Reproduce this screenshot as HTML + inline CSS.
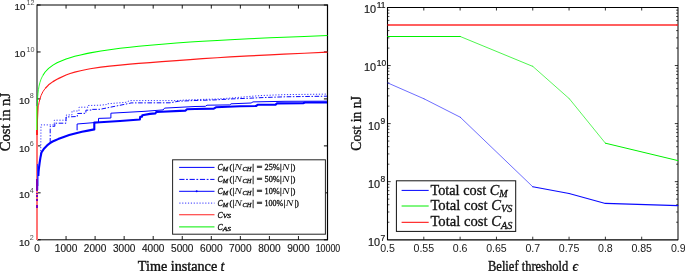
<!DOCTYPE html>
<html><head><meta charset="utf-8"><title>plots</title>
<style>html,body{margin:0;padding:0;background:#fff;}body{width:685px;height:271px;overflow:hidden;}svg{display:block;}text{font-family:"Liberation Sans",sans-serif;fill:#1a1a1a;}.s{font-family:"Liberation Serif",serif;fill:#111;}</style></head><body>
<svg width="685" height="271" viewBox="0 0 685 271">
<rect width="685" height="271" fill="#fff"/>
<defs><linearGradient id="fadeR" x1="0" y1="0" x2="0" y2="1"><stop offset="0" stop-color="#ff5050"/><stop offset="1" stop-color="#ffffff"/></linearGradient></defs>
<g style="filter:brightness(1)">
<g id="left">
<line x1="37.00" y1="5.00" x2="327.50" y2="5.00" stroke="#000" stroke-width="1" />
<line x1="37.00" y1="239.80" x2="327.50" y2="239.80" stroke="#000" stroke-width="1" />
<line x1="37.00" y1="4.50" x2="37.00" y2="106.00" stroke="#000" stroke-width="1" />
<line x1="327.50" y1="4.50" x2="327.50" y2="240.30" stroke="#000" stroke-width="1.2" />
<line x1="66.05" y1="239.80" x2="66.05" y2="236.00" stroke="#000" stroke-width="0.9" />
<line x1="66.05" y1="5.00" x2="66.05" y2="8.60" stroke="#000" stroke-width="0.9" />
<line x1="95.10" y1="239.80" x2="95.10" y2="236.00" stroke="#000" stroke-width="0.9" />
<line x1="95.10" y1="5.00" x2="95.10" y2="8.60" stroke="#000" stroke-width="0.9" />
<line x1="124.15" y1="239.80" x2="124.15" y2="236.00" stroke="#000" stroke-width="0.9" />
<line x1="124.15" y1="5.00" x2="124.15" y2="8.60" stroke="#000" stroke-width="0.9" />
<line x1="153.20" y1="239.80" x2="153.20" y2="236.00" stroke="#000" stroke-width="0.9" />
<line x1="153.20" y1="5.00" x2="153.20" y2="8.60" stroke="#000" stroke-width="0.9" />
<line x1="182.25" y1="239.80" x2="182.25" y2="236.00" stroke="#000" stroke-width="0.9" />
<line x1="182.25" y1="5.00" x2="182.25" y2="8.60" stroke="#000" stroke-width="0.9" />
<line x1="211.30" y1="239.80" x2="211.30" y2="236.00" stroke="#000" stroke-width="0.9" />
<line x1="211.30" y1="5.00" x2="211.30" y2="8.60" stroke="#000" stroke-width="0.9" />
<line x1="240.35" y1="239.80" x2="240.35" y2="236.00" stroke="#000" stroke-width="0.9" />
<line x1="240.35" y1="5.00" x2="240.35" y2="8.60" stroke="#000" stroke-width="0.9" />
<line x1="269.40" y1="239.80" x2="269.40" y2="236.00" stroke="#000" stroke-width="0.9" />
<line x1="269.40" y1="5.00" x2="269.40" y2="8.60" stroke="#000" stroke-width="0.9" />
<line x1="298.45" y1="239.80" x2="298.45" y2="236.00" stroke="#000" stroke-width="0.9" />
<line x1="298.45" y1="5.00" x2="298.45" y2="8.60" stroke="#000" stroke-width="0.9" />
<line x1="37.00" y1="239.80" x2="40.60" y2="239.80" stroke="#000" stroke-width="1.0" />
<line x1="327.50" y1="239.80" x2="323.90" y2="239.80" stroke="#000" stroke-width="1.0" />
<line x1="37.00" y1="192.84" x2="40.60" y2="192.84" stroke="#000" stroke-width="1.0" />
<line x1="327.50" y1="192.84" x2="323.90" y2="192.84" stroke="#000" stroke-width="1.0" />
<line x1="37.00" y1="145.88" x2="40.60" y2="145.88" stroke="#000" stroke-width="1.0" />
<line x1="327.50" y1="145.88" x2="323.90" y2="145.88" stroke="#000" stroke-width="1.0" />
<line x1="37.00" y1="98.92" x2="40.60" y2="98.92" stroke="#000" stroke-width="1.0" />
<line x1="327.50" y1="98.92" x2="323.90" y2="98.92" stroke="#000" stroke-width="1.0" />
<line x1="37.00" y1="51.96" x2="40.60" y2="51.96" stroke="#000" stroke-width="1.0" />
<line x1="327.50" y1="51.96" x2="323.90" y2="51.96" stroke="#000" stroke-width="1.0" />
<line x1="37.00" y1="5.00" x2="40.60" y2="5.00" stroke="#000" stroke-width="1.0" />
<line x1="327.50" y1="5.00" x2="323.90" y2="5.00" stroke="#000" stroke-width="1.0" />
<polyline points="40.70,154.00 41.00,124.90 54.30,124.90 54.30,120.20 66.40,120.20 66.40,114.90 72.00,114.90 72.00,111.00 79.00,111.00 79.00,107.20 88.00,107.20 88.00,105.50 100.00,105.20 106.20,104.60 106.20,103.90 126.00,102.30 129.80,100.60 178.80,100.60 182.00,100.20 195.00,99.60 215.00,99.10 232.00,98.00 250.00,96.40 262.00,95.50 285.00,94.60 305.00,94.40 327.00,94.10" fill="none" stroke="#2a2aff" stroke-width="0.95" stroke-dasharray="1.2 1.7"/>
<polyline points="50.20,142.60 50.20,126.30 54.80,126.30 54.80,123.20 66.00,123.20 66.00,117.00 77.30,116.50 77.30,113.50 85.90,113.30 85.90,110.20 92.20,110.00 92.20,109.40 100.00,109.30 129.80,103.30 131.00,102.90 170.00,102.80 178.80,101.20 195.00,100.50 215.00,99.90 232.00,98.90 250.00,98.20 262.00,97.60 285.00,96.80 305.00,96.50 327.00,96.20" fill="none" stroke="#0a0aff" stroke-width="1.0" stroke-dasharray="4.6 1.6 1.5 1.6"/>
<polyline points="77.10,130.30 77.10,124.00 94.30,122.60 98.50,122.40 98.50,118.40 110.90,118.00 110.90,113.20 145.00,111.30 163.20,109.90 164.60,108.10 195.00,106.50 205.40,106.30 207.00,105.20 229.90,104.90 231.00,103.80 251.10,103.00 253.00,101.90 285.00,101.30 327.00,101.20" fill="none" stroke="#0000ff" stroke-width="1.0" stroke-linejoin="miter"/>
<polyline points="38.35,176.00 38.55,172.00 38.95,168.00 39.60,163.00 40.50,157.20 41.50,152.30 44.20,148.40 47.10,145.40 50.00,143.20 52.60,141.50 55.50,140.20 58.10,139.10 63.70,136.90 69.20,135.10 76.00,133.20 82.00,131.80 88.00,130.60 94.30,129.40 94.30,122.60 100.00,122.30 120.00,121.00 139.90,119.50 140.20,116.90 142.00,116.70 142.30,115.30 150.00,113.90 155.50,113.40 156.20,112.00 185.60,110.60 187.00,109.20 195.00,109.00 213.80,108.60 215.90,107.30 240.00,106.20 256.00,106.00 258.00,104.70 275.60,104.60 277.00,103.40 303.10,103.30 305.00,102.50 327.00,102.50" fill="none" stroke="#0000ff" stroke-width="2.1" stroke-linejoin="round"/>
<polyline points="37.03,145.88 37.06,138.81 37.09,134.68 37.15,129.47 37.23,124.68 37.35,120.54 37.52,116.41 37.73,113.06 38.02,109.63 38.45,106.00 39.03,102.57 39.91,98.93 41.07,95.51 42.81,91.88 45.13,88.46" fill="none" stroke="#ff1a1a" stroke-width="1.0" stroke-linejoin="round"/>
<polyline points="45.13,88.46 48.62,84.84 52.98,81.62 57.04,79.32 58.79,78.38 66.05,75.05 70.12,73.50 74.77,72.19 80.58,70.76 86.38,69.51 90.16,68.78 100.91,67.19 109.62,66.12 120.08,65.03 129.96,64.14 138.68,63.46 150.00,62.69 161.92,61.67 176.44,60.54 190.09,59.59 202.59,58.70 217.11,57.73 230.18,56.92 249.06,55.92 269.98,54.91 283.93,54.21 304.26,53.24 327.50,52.21" fill="none" stroke="#ff1a1a" stroke-width="1.2" stroke-linejoin="round"/>
<polyline points="37.03,129.47 37.06,122.40 37.09,118.27 37.15,113.06 37.23,108.26 37.35,104.13 37.52,99.99 37.73,96.64 38.02,93.21 38.45,89.58 39.03,86.15 39.91,82.51 41.07,79.08 42.81,75.44" fill="none" stroke="#00ff00" stroke-width="0.8" stroke-linejoin="round"/>
<polyline points="42.81,75.44 45.13,72.01 48.62,68.37 52.98,65.12 57.04,62.81 58.79,61.96 66.05,59.03 70.12,57.69 74.77,56.35 80.58,54.89 86.38,53.62 90.16,52.87 100.91,50.99 109.62,49.68 120.08,48.31 129.96,47.17 138.68,46.25 150.00,45.18 161.92,44.15 176.44,43.03 190.09,42.08 202.59,41.28 217.11,40.42 230.18,39.71 249.06,38.76 269.98,37.80 283.93,37.21 304.26,36.40 327.50,35.55" fill="none" stroke="#00ff00" stroke-width="1.05" stroke-linejoin="round"/>
<rect x="36" y="106.00" width="1" height="24.00" fill="#66ff44" shape-rendering="crispEdges"/>
<rect x="37" y="106.00" width="1" height="24.00" fill="#8a7a20" shape-rendering="crispEdges"/>
<rect x="38" y="104" width="1" height="16" fill="url(#fadeR)" shape-rendering="crispEdges"/>
<rect x="36" y="130.00" width="2" height="4.50" fill="#ff2020" shape-rendering="crispEdges"/>
<rect x="36" y="134.50" width="2" height="105.50" fill="#ff7474" shape-rendering="crispEdges"/>
<rect x="36" y="179.00" width="2" height="12.30" fill="#7a00b8" shape-rendering="crispEdges"/>
<rect x="36" y="192.60" width="2" height="1.70" fill="#7a00b8" shape-rendering="crispEdges"/>
<rect x="36" y="194.80" width="2" height="2.20" fill="#7a00b8" shape-rendering="crispEdges"/>
<rect x="36" y="198.70" width="2" height="2.30" fill="#7a00b8" shape-rendering="crispEdges"/>
<rect x="36" y="205.30" width="2" height="2.70" fill="#7a00b8" shape-rendering="crispEdges"/>
<rect x="37" y="164.00" width="1" height="15.00" fill="#2a2aff" shape-rendering="crispEdges"/>
<rect x="38" y="176.00" width="1" height="10.00" fill="#8c8cff" shape-rendering="crispEdges"/>
<rect x="38" y="186.00" width="1" height="4.00" fill="#c8c8ff" shape-rendering="crispEdges"/>
<rect x="172.6" y="159.8" width="152.80" height="74.40" fill="#fff" stroke="#222" stroke-width="1"/>
<line x1="179.10" y1="167.40" x2="214.50" y2="167.40" stroke="#0000ff" stroke-width="1.0" />
<line x1="179.30" y1="179.40" x2="214.50" y2="179.40" stroke="#0000ff" stroke-width="1.0" stroke-dasharray="5.2 1.6 1.8 1.7"/>
<line x1="179.10" y1="191.30" x2="214.50" y2="191.30" stroke="#0000ff" stroke-width="1.0" />
<circle cx="196.7" cy="191.3" r="1.0" fill="#0000ff"/>
<line x1="179.30" y1="203.10" x2="214.50" y2="203.10" stroke="#3030ff" stroke-width="1.0" stroke-dasharray="1.2 1.68"/>
<line x1="179.10" y1="214.75" x2="214.50" y2="214.75" stroke="#ff2020" stroke-width="1.0" />
<line x1="179.10" y1="226.90" x2="214.50" y2="226.90" stroke="#00ee00" stroke-width="1.0" />
<text class="s" x="217.50" y="170.20" font-size="8.6" font-style="italic" textLength="5.2" lengthAdjust="spacingAndGlyphs" style="stroke:#111;stroke-width:0.3px">C</text>
<text class="s" x="222.70" y="171.10" font-size="6.3" font-style="italic" textLength="5.4" lengthAdjust="spacingAndGlyphs" style="stroke:#111;stroke-width:0.3px">M</text>
<text class="s" x="229.40" y="170.20" font-size="8.6" style="stroke:#111;stroke-width:0.3px">(</text>
<text class="s" x="232.60" y="170.20" font-size="8.6" style="stroke:#111;stroke-width:0.3px">|</text>
<text class="s" x="234.30" y="170.20" font-size="8.6" font-style="italic" textLength="7.8" lengthAdjust="spacingAndGlyphs" >N</text>
<text class="s" x="242.40" y="171.10" font-size="6.3" font-style="italic" textLength="9.0" lengthAdjust="spacingAndGlyphs" style="stroke:#111;stroke-width:0.3px">CH</text>
<text class="s" x="252.20" y="170.20" font-size="8.6" style="stroke:#111;stroke-width:0.3px">|</text>
<text class="s" x="256.60" y="170.20" font-size="8.6" textLength="6.0" lengthAdjust="spacingAndGlyphs" style="stroke:#111;stroke-width:0.3px">=</text>
<text class="s" x="264.50" y="170.20" font-size="8.6" textLength="15.2" lengthAdjust="spacingAndGlyphs" style="stroke:#111;stroke-width:0.3px">25%</text>
<text class="s" x="280.10" y="170.20" font-size="8.6" style="stroke:#111;stroke-width:0.3px">|</text>
<text class="s" x="281.80" y="170.20" font-size="8.6" font-style="italic" textLength="8.0" lengthAdjust="spacingAndGlyphs" >N</text>
<text class="s" x="290.80" y="170.20" font-size="8.6" style="stroke:#111;stroke-width:0.3px">|</text>
<text class="s" x="292.40" y="170.20" font-size="8.6" style="stroke:#111;stroke-width:0.3px">)</text>
<text class="s" x="217.50" y="182.20" font-size="8.6" font-style="italic" textLength="5.2" lengthAdjust="spacingAndGlyphs" style="stroke:#111;stroke-width:0.3px">C</text>
<text class="s" x="222.70" y="183.10" font-size="6.3" font-style="italic" textLength="5.4" lengthAdjust="spacingAndGlyphs" style="stroke:#111;stroke-width:0.3px">M</text>
<text class="s" x="229.40" y="182.20" font-size="8.6" style="stroke:#111;stroke-width:0.3px">(</text>
<text class="s" x="232.60" y="182.20" font-size="8.6" style="stroke:#111;stroke-width:0.3px">|</text>
<text class="s" x="234.30" y="182.20" font-size="8.6" font-style="italic" textLength="7.8" lengthAdjust="spacingAndGlyphs" >N</text>
<text class="s" x="242.40" y="183.10" font-size="6.3" font-style="italic" textLength="9.0" lengthAdjust="spacingAndGlyphs" style="stroke:#111;stroke-width:0.3px">CH</text>
<text class="s" x="252.20" y="182.20" font-size="8.6" style="stroke:#111;stroke-width:0.3px">|</text>
<text class="s" x="256.60" y="182.20" font-size="8.6" textLength="6.0" lengthAdjust="spacingAndGlyphs" style="stroke:#111;stroke-width:0.3px">=</text>
<text class="s" x="264.50" y="182.20" font-size="8.6" textLength="15.2" lengthAdjust="spacingAndGlyphs" style="stroke:#111;stroke-width:0.3px">50%</text>
<text class="s" x="280.10" y="182.20" font-size="8.6" style="stroke:#111;stroke-width:0.3px">|</text>
<text class="s" x="281.80" y="182.20" font-size="8.6" font-style="italic" textLength="8.0" lengthAdjust="spacingAndGlyphs" >N</text>
<text class="s" x="290.80" y="182.20" font-size="8.6" style="stroke:#111;stroke-width:0.3px">|</text>
<text class="s" x="292.40" y="182.20" font-size="8.6" style="stroke:#111;stroke-width:0.3px">)</text>
<text class="s" x="217.50" y="194.10" font-size="8.6" font-style="italic" textLength="5.2" lengthAdjust="spacingAndGlyphs" style="stroke:#111;stroke-width:0.3px">C</text>
<text class="s" x="222.70" y="195.00" font-size="6.3" font-style="italic" textLength="5.4" lengthAdjust="spacingAndGlyphs" style="stroke:#111;stroke-width:0.3px">M</text>
<text class="s" x="229.40" y="194.10" font-size="8.6" style="stroke:#111;stroke-width:0.3px">(</text>
<text class="s" x="232.60" y="194.10" font-size="8.6" style="stroke:#111;stroke-width:0.3px">|</text>
<text class="s" x="234.30" y="194.10" font-size="8.6" font-style="italic" textLength="7.8" lengthAdjust="spacingAndGlyphs" >N</text>
<text class="s" x="242.40" y="195.00" font-size="6.3" font-style="italic" textLength="9.0" lengthAdjust="spacingAndGlyphs" style="stroke:#111;stroke-width:0.3px">CH</text>
<text class="s" x="252.20" y="194.10" font-size="8.6" style="stroke:#111;stroke-width:0.3px">|</text>
<text class="s" x="256.60" y="194.10" font-size="8.6" textLength="6.0" lengthAdjust="spacingAndGlyphs" style="stroke:#111;stroke-width:0.3px">=</text>
<text class="s" x="264.50" y="194.10" font-size="8.6" textLength="15.2" lengthAdjust="spacingAndGlyphs" style="stroke:#111;stroke-width:0.3px">10%</text>
<text class="s" x="280.10" y="194.10" font-size="8.6" style="stroke:#111;stroke-width:0.3px">|</text>
<text class="s" x="281.80" y="194.10" font-size="8.6" font-style="italic" textLength="8.0" lengthAdjust="spacingAndGlyphs" >N</text>
<text class="s" x="290.80" y="194.10" font-size="8.6" style="stroke:#111;stroke-width:0.3px">|</text>
<text class="s" x="292.40" y="194.10" font-size="8.6" style="stroke:#111;stroke-width:0.3px">)</text>
<text class="s" x="217.50" y="205.90" font-size="8.6" font-style="italic" textLength="5.2" lengthAdjust="spacingAndGlyphs" style="stroke:#111;stroke-width:0.3px">C</text>
<text class="s" x="222.70" y="206.80" font-size="6.3" font-style="italic" textLength="5.4" lengthAdjust="spacingAndGlyphs" style="stroke:#111;stroke-width:0.3px">M</text>
<text class="s" x="229.40" y="205.90" font-size="8.6" style="stroke:#111;stroke-width:0.3px">(</text>
<text class="s" x="232.60" y="205.90" font-size="8.6" style="stroke:#111;stroke-width:0.3px">|</text>
<text class="s" x="234.30" y="205.90" font-size="8.6" font-style="italic" textLength="7.8" lengthAdjust="spacingAndGlyphs" >N</text>
<text class="s" x="242.40" y="206.80" font-size="6.3" font-style="italic" textLength="9.0" lengthAdjust="spacingAndGlyphs" style="stroke:#111;stroke-width:0.3px">CH</text>
<text class="s" x="252.20" y="205.90" font-size="8.6" style="stroke:#111;stroke-width:0.3px">|</text>
<text class="s" x="256.60" y="205.90" font-size="8.6" textLength="6.0" lengthAdjust="spacingAndGlyphs" style="stroke:#111;stroke-width:0.3px">=</text>
<text class="s" x="264.50" y="205.90" font-size="8.6" textLength="18.8" lengthAdjust="spacingAndGlyphs" style="stroke:#111;stroke-width:0.3px">100%</text>
<text class="s" x="283.70" y="205.90" font-size="8.6" style="stroke:#111;stroke-width:0.3px">|</text>
<text class="s" x="285.40" y="205.90" font-size="8.6" font-style="italic" textLength="8.0" lengthAdjust="spacingAndGlyphs" >N</text>
<text class="s" x="294.40" y="205.90" font-size="8.6" style="stroke:#111;stroke-width:0.3px">|</text>
<text class="s" x="296.00" y="205.90" font-size="8.6" style="stroke:#111;stroke-width:0.3px">)</text>
<text class="s" x="217.50" y="217.55" font-size="8.6" font-style="italic" textLength="5.2" lengthAdjust="spacingAndGlyphs" style="stroke:#111;stroke-width:0.3px">C</text>
<text class="s" x="222.70" y="218.45" font-size="6.3" font-style="italic" textLength="8.4" lengthAdjust="spacingAndGlyphs" style="stroke:#111;stroke-width:0.3px">VS</text>
<text class="s" x="217.50" y="229.70" font-size="8.6" font-style="italic" textLength="5.2" lengthAdjust="spacingAndGlyphs" style="stroke:#111;stroke-width:0.3px">C</text>
<text class="s" x="222.70" y="230.60" font-size="6.3" font-style="italic" textLength="8.4" lengthAdjust="spacingAndGlyphs" style="stroke:#111;stroke-width:0.3px">AS</text>
<text x="37.00" y="251.9" font-size="10.1" text-anchor="middle" style="stroke:#1a1a1a;stroke-width:0.15px">0</text>
<text x="66.05" y="251.9" font-size="10.1" text-anchor="middle" style="stroke:#1a1a1a;stroke-width:0.15px">1000</text>
<text x="95.10" y="251.9" font-size="10.1" text-anchor="middle" style="stroke:#1a1a1a;stroke-width:0.15px">2000</text>
<text x="124.15" y="251.9" font-size="10.1" text-anchor="middle" style="stroke:#1a1a1a;stroke-width:0.15px">3000</text>
<text x="153.20" y="251.9" font-size="10.1" text-anchor="middle" style="stroke:#1a1a1a;stroke-width:0.15px">4000</text>
<text x="182.25" y="251.9" font-size="10.1" text-anchor="middle" style="stroke:#1a1a1a;stroke-width:0.15px">5000</text>
<text x="211.30" y="251.9" font-size="10.1" text-anchor="middle" style="stroke:#1a1a1a;stroke-width:0.15px">6000</text>
<text x="240.35" y="251.9" font-size="10.1" text-anchor="middle" style="stroke:#1a1a1a;stroke-width:0.15px">7000</text>
<text x="269.40" y="251.9" font-size="10.1" text-anchor="middle" style="stroke:#1a1a1a;stroke-width:0.15px">8000</text>
<text x="298.45" y="251.9" font-size="10.1" text-anchor="middle" style="stroke:#1a1a1a;stroke-width:0.15px">9000</text>
<text x="328.00" y="251.9" font-size="10.1" text-anchor="middle" textLength="24.6" lengthAdjust="spacingAndGlyphs" style="stroke:#1a1a1a;stroke-width:0.15px">10000</text>
<text x="29.80" y="245.70" font-size="9.8" text-anchor="end" style="stroke:#1a1a1a;stroke-width:0.2px">10</text>
<text x="29.70" y="240.40" font-size="7.2" style="fill:#505050">2</text>
<text x="29.80" y="198.40" font-size="9.8" text-anchor="end" style="stroke:#1a1a1a;stroke-width:0.2px">10</text>
<text x="29.70" y="193.10" font-size="7.2" style="fill:#505050">4</text>
<text x="29.80" y="151.60" font-size="9.8" text-anchor="end" style="stroke:#1a1a1a;stroke-width:0.2px">10</text>
<text x="29.70" y="146.30" font-size="7.2" style="fill:#505050">6</text>
<text x="29.80" y="103.70" font-size="9.8" text-anchor="end" style="stroke:#1a1a1a;stroke-width:0.2px">10</text>
<text x="29.70" y="98.40" font-size="7.2" style="fill:#505050">8</text>
<text x="25.50" y="57.30" font-size="9.8" text-anchor="end" style="stroke:#1a1a1a;stroke-width:0.2px">10</text>
<text x="26.40" y="52.00" font-size="7.2" style="fill:#505050">10</text>
<text x="25.50" y="10.10" font-size="9.8" text-anchor="end" style="stroke:#1a1a1a;stroke-width:0.2px">10</text>
<text x="26.40" y="5.30" font-size="7.2" style="fill:#505050">12</text>
<text class="s" x="137.8" y="270.5" font-size="14.3" textLength="79.4" lengthAdjust="spacingAndGlyphs" style="stroke:#111;stroke-width:0.4px">Time instance</text>
<text class="s" x="220.6" y="270.5" font-size="14.3" font-style="italic" style="stroke:#111;stroke-width:0.3px">t</text>
<text class="s" transform="translate(10.1,151.3) rotate(-90)" font-size="14" textLength="58.4" lengthAdjust="spacingAndGlyphs" style="stroke:#111;stroke-width:0.35px">Cost in nJ</text>
</g>
<g id="right">
<line x1="387.50" y1="7.50" x2="678.00" y2="7.50" stroke="#000" stroke-width="1" />
<line x1="387.50" y1="239.85" x2="678.00" y2="239.85" stroke="#000" stroke-width="1.1" />
<line x1="387.50" y1="7.00" x2="387.50" y2="240.20" stroke="#000" stroke-width="1.1" />
<line x1="678.00" y1="7.00" x2="678.00" y2="240.20" stroke="#000" stroke-width="1" />
<line x1="423.81" y1="239.70" x2="423.81" y2="236.70" stroke="#000" stroke-width="0.8" />
<line x1="423.81" y1="7.50" x2="423.81" y2="10.50" stroke="#000" stroke-width="0.8" />
<line x1="460.12" y1="239.70" x2="460.12" y2="236.70" stroke="#000" stroke-width="0.8" />
<line x1="460.12" y1="7.50" x2="460.12" y2="10.50" stroke="#000" stroke-width="0.8" />
<line x1="496.44" y1="239.70" x2="496.44" y2="236.70" stroke="#000" stroke-width="0.8" />
<line x1="496.44" y1="7.50" x2="496.44" y2="10.50" stroke="#000" stroke-width="0.8" />
<line x1="532.75" y1="239.70" x2="532.75" y2="236.70" stroke="#000" stroke-width="0.8" />
<line x1="532.75" y1="7.50" x2="532.75" y2="10.50" stroke="#000" stroke-width="0.8" />
<line x1="569.06" y1="239.70" x2="569.06" y2="236.70" stroke="#000" stroke-width="0.8" />
<line x1="569.06" y1="7.50" x2="569.06" y2="10.50" stroke="#000" stroke-width="0.8" />
<line x1="605.38" y1="239.70" x2="605.38" y2="236.70" stroke="#000" stroke-width="0.8" />
<line x1="605.38" y1="7.50" x2="605.38" y2="10.50" stroke="#000" stroke-width="0.8" />
<line x1="641.69" y1="239.70" x2="641.69" y2="236.70" stroke="#000" stroke-width="0.8" />
<line x1="641.69" y1="7.50" x2="641.69" y2="10.50" stroke="#000" stroke-width="0.8" />
<line x1="387.50" y1="222.23" x2="389.40" y2="222.23" stroke="#000" stroke-width="0.7" />
<line x1="678.00" y1="222.23" x2="676.10" y2="222.23" stroke="#000" stroke-width="0.7" />
<line x1="387.50" y1="212.00" x2="389.40" y2="212.00" stroke="#000" stroke-width="0.7" />
<line x1="678.00" y1="212.00" x2="676.10" y2="212.00" stroke="#000" stroke-width="0.7" />
<line x1="387.50" y1="204.75" x2="389.40" y2="204.75" stroke="#000" stroke-width="0.7" />
<line x1="678.00" y1="204.75" x2="676.10" y2="204.75" stroke="#000" stroke-width="0.7" />
<line x1="387.50" y1="199.12" x2="389.40" y2="199.12" stroke="#000" stroke-width="0.7" />
<line x1="678.00" y1="199.12" x2="676.10" y2="199.12" stroke="#000" stroke-width="0.7" />
<line x1="387.50" y1="194.53" x2="389.40" y2="194.53" stroke="#000" stroke-width="0.7" />
<line x1="678.00" y1="194.53" x2="676.10" y2="194.53" stroke="#000" stroke-width="0.7" />
<line x1="387.50" y1="190.64" x2="389.40" y2="190.64" stroke="#000" stroke-width="0.7" />
<line x1="678.00" y1="190.64" x2="676.10" y2="190.64" stroke="#000" stroke-width="0.7" />
<line x1="387.50" y1="187.28" x2="389.40" y2="187.28" stroke="#000" stroke-width="0.7" />
<line x1="678.00" y1="187.28" x2="676.10" y2="187.28" stroke="#000" stroke-width="0.7" />
<line x1="387.50" y1="184.31" x2="389.40" y2="184.31" stroke="#000" stroke-width="0.7" />
<line x1="678.00" y1="184.31" x2="676.10" y2="184.31" stroke="#000" stroke-width="0.7" />
<line x1="387.50" y1="181.65" x2="390.70" y2="181.65" stroke="#000" stroke-width="0.8" />
<line x1="678.00" y1="181.65" x2="674.80" y2="181.65" stroke="#000" stroke-width="0.8" />
<line x1="387.50" y1="164.18" x2="389.40" y2="164.18" stroke="#000" stroke-width="0.7" />
<line x1="678.00" y1="164.18" x2="676.10" y2="164.18" stroke="#000" stroke-width="0.7" />
<line x1="387.50" y1="153.95" x2="389.40" y2="153.95" stroke="#000" stroke-width="0.7" />
<line x1="678.00" y1="153.95" x2="676.10" y2="153.95" stroke="#000" stroke-width="0.7" />
<line x1="387.50" y1="146.70" x2="389.40" y2="146.70" stroke="#000" stroke-width="0.7" />
<line x1="678.00" y1="146.70" x2="676.10" y2="146.70" stroke="#000" stroke-width="0.7" />
<line x1="387.50" y1="141.07" x2="389.40" y2="141.07" stroke="#000" stroke-width="0.7" />
<line x1="678.00" y1="141.07" x2="676.10" y2="141.07" stroke="#000" stroke-width="0.7" />
<line x1="387.50" y1="136.48" x2="389.40" y2="136.48" stroke="#000" stroke-width="0.7" />
<line x1="678.00" y1="136.48" x2="676.10" y2="136.48" stroke="#000" stroke-width="0.7" />
<line x1="387.50" y1="132.59" x2="389.40" y2="132.59" stroke="#000" stroke-width="0.7" />
<line x1="678.00" y1="132.59" x2="676.10" y2="132.59" stroke="#000" stroke-width="0.7" />
<line x1="387.50" y1="129.23" x2="389.40" y2="129.23" stroke="#000" stroke-width="0.7" />
<line x1="678.00" y1="129.23" x2="676.10" y2="129.23" stroke="#000" stroke-width="0.7" />
<line x1="387.50" y1="126.26" x2="389.40" y2="126.26" stroke="#000" stroke-width="0.7" />
<line x1="678.00" y1="126.26" x2="676.10" y2="126.26" stroke="#000" stroke-width="0.7" />
<line x1="387.50" y1="123.60" x2="390.70" y2="123.60" stroke="#000" stroke-width="0.8" />
<line x1="678.00" y1="123.60" x2="674.80" y2="123.60" stroke="#000" stroke-width="0.8" />
<line x1="387.50" y1="106.13" x2="389.40" y2="106.13" stroke="#000" stroke-width="0.7" />
<line x1="678.00" y1="106.13" x2="676.10" y2="106.13" stroke="#000" stroke-width="0.7" />
<line x1="387.50" y1="95.90" x2="389.40" y2="95.90" stroke="#000" stroke-width="0.7" />
<line x1="678.00" y1="95.90" x2="676.10" y2="95.90" stroke="#000" stroke-width="0.7" />
<line x1="387.50" y1="88.65" x2="389.40" y2="88.65" stroke="#000" stroke-width="0.7" />
<line x1="678.00" y1="88.65" x2="676.10" y2="88.65" stroke="#000" stroke-width="0.7" />
<line x1="387.50" y1="83.02" x2="389.40" y2="83.02" stroke="#000" stroke-width="0.7" />
<line x1="678.00" y1="83.02" x2="676.10" y2="83.02" stroke="#000" stroke-width="0.7" />
<line x1="387.50" y1="78.43" x2="389.40" y2="78.43" stroke="#000" stroke-width="0.7" />
<line x1="678.00" y1="78.43" x2="676.10" y2="78.43" stroke="#000" stroke-width="0.7" />
<line x1="387.50" y1="74.54" x2="389.40" y2="74.54" stroke="#000" stroke-width="0.7" />
<line x1="678.00" y1="74.54" x2="676.10" y2="74.54" stroke="#000" stroke-width="0.7" />
<line x1="387.50" y1="71.18" x2="389.40" y2="71.18" stroke="#000" stroke-width="0.7" />
<line x1="678.00" y1="71.18" x2="676.10" y2="71.18" stroke="#000" stroke-width="0.7" />
<line x1="387.50" y1="68.21" x2="389.40" y2="68.21" stroke="#000" stroke-width="0.7" />
<line x1="678.00" y1="68.21" x2="676.10" y2="68.21" stroke="#000" stroke-width="0.7" />
<line x1="387.50" y1="65.55" x2="390.70" y2="65.55" stroke="#000" stroke-width="0.8" />
<line x1="678.00" y1="65.55" x2="674.80" y2="65.55" stroke="#000" stroke-width="0.8" />
<line x1="387.50" y1="48.08" x2="389.40" y2="48.08" stroke="#000" stroke-width="0.7" />
<line x1="678.00" y1="48.08" x2="676.10" y2="48.08" stroke="#000" stroke-width="0.7" />
<line x1="387.50" y1="37.85" x2="389.40" y2="37.85" stroke="#000" stroke-width="0.7" />
<line x1="678.00" y1="37.85" x2="676.10" y2="37.85" stroke="#000" stroke-width="0.7" />
<line x1="387.50" y1="30.60" x2="389.40" y2="30.60" stroke="#000" stroke-width="0.7" />
<line x1="678.00" y1="30.60" x2="676.10" y2="30.60" stroke="#000" stroke-width="0.7" />
<line x1="387.50" y1="24.97" x2="389.40" y2="24.97" stroke="#000" stroke-width="0.7" />
<line x1="678.00" y1="24.97" x2="676.10" y2="24.97" stroke="#000" stroke-width="0.7" />
<line x1="387.50" y1="20.38" x2="389.40" y2="20.38" stroke="#000" stroke-width="0.7" />
<line x1="678.00" y1="20.38" x2="676.10" y2="20.38" stroke="#000" stroke-width="0.7" />
<line x1="387.50" y1="16.49" x2="389.40" y2="16.49" stroke="#000" stroke-width="0.7" />
<line x1="678.00" y1="16.49" x2="676.10" y2="16.49" stroke="#000" stroke-width="0.7" />
<line x1="387.50" y1="13.13" x2="389.40" y2="13.13" stroke="#000" stroke-width="0.7" />
<line x1="678.00" y1="13.13" x2="676.10" y2="13.13" stroke="#000" stroke-width="0.7" />
<line x1="387.50" y1="10.16" x2="389.40" y2="10.16" stroke="#000" stroke-width="0.7" />
<line x1="678.00" y1="10.16" x2="676.10" y2="10.16" stroke="#000" stroke-width="0.7" />
<polyline points="387.70,36.50 460.25,36.50" fill="none" stroke="#00f000" stroke-width="1.0" stroke-linecap="round"/>
<polyline points="460.25,36.50 532.80,66.40" fill="none" stroke="#00f000" stroke-width="0.7" stroke-linecap="round"/>
<polyline points="532.80,66.40 569.30,98.70" fill="none" stroke="#00f000" stroke-width="0.65" stroke-linecap="round"/>
<polyline points="569.30,98.70 605.40,143.20" fill="none" stroke="#00f000" stroke-width="0.65" stroke-linecap="round"/>
<polyline points="605.40,143.20 677.90,160.60" fill="none" stroke="#00f000" stroke-width="1.0" stroke-linecap="round"/>
<polyline points="387.70,82.90 424.00,98.80" fill="none" stroke="#0a0aff" stroke-width="0.6" stroke-linecap="round"/>
<polyline points="424.00,98.80 460.25,117.20" fill="none" stroke="#0a0aff" stroke-width="0.6" stroke-linecap="round"/>
<polyline points="460.25,117.20 532.80,186.80" fill="none" stroke="#0a0aff" stroke-width="0.6" stroke-linecap="round"/>
<polyline points="532.80,186.80 569.10,193.50" fill="none" stroke="#0a0aff" stroke-width="1.05" stroke-linecap="round"/>
<polyline points="569.10,193.50 605.40,203.40" fill="none" stroke="#0a0aff" stroke-width="1.05" stroke-linecap="round"/>
<polyline points="605.40,203.40 677.90,205.60" fill="none" stroke="#0a0aff" stroke-width="1.15" stroke-linecap="round"/>
<line x1="387.50" y1="25.00" x2="678.00" y2="25.00" stroke="#ff2a2a" stroke-width="1.3" />
<rect x="396.4" y="180.8" width="119.3" height="50.6" fill="#fff" stroke="#111" stroke-width="1"/>
<line x1="401.60" y1="190.40" x2="428.70" y2="190.40" stroke="#0000ff" stroke-width="1.0" />
<line x1="401.60" y1="206.00" x2="428.70" y2="206.00" stroke="#00ee00" stroke-width="1.0" />
<line x1="401.60" y1="222.30" x2="428.70" y2="222.30" stroke="#ff0000" stroke-width="1.0" />
<text class="s" x="430.4" y="194.50" font-size="13.7" textLength="77.3" lengthAdjust="spacingAndGlyphs" style="stroke:#111;stroke-width:0.3px">Total cost <tspan font-style="italic">C</tspan><tspan font-style="italic" font-size="9.6" dy="2.1">M</tspan></text>
<text class="s" x="430.4" y="210.10" font-size="13.7" textLength="82.0" lengthAdjust="spacingAndGlyphs" style="stroke:#111;stroke-width:0.3px">Total cost <tspan font-style="italic">C</tspan><tspan font-style="italic" font-size="9.6" dy="2.1">VS</tspan></text>
<text class="s" x="430.4" y="226.40" font-size="13.7" textLength="82.0" lengthAdjust="spacingAndGlyphs" style="stroke:#111;stroke-width:0.3px">Total cost <tspan font-style="italic">C</tspan><tspan font-style="italic" font-size="9.6" dy="2.1">AS</tspan></text>
<text x="387.50" y="251.9" font-size="10.6" text-anchor="middle">0.5</text>
<text x="423.81" y="251.9" font-size="10.6" text-anchor="middle">0.55</text>
<text x="460.12" y="251.9" font-size="10.6" text-anchor="middle">0.6</text>
<text x="496.44" y="251.9" font-size="10.6" text-anchor="middle">0.65</text>
<text x="532.75" y="251.9" font-size="10.6" text-anchor="middle">0.7</text>
<text x="569.06" y="251.9" font-size="10.6" text-anchor="middle">0.75</text>
<text x="605.38" y="251.9" font-size="10.6" text-anchor="middle">0.8</text>
<text x="641.69" y="251.9" font-size="10.6" text-anchor="middle">0.85</text>
<text x="678.30" y="251.9" font-size="10.6" text-anchor="middle">0.9</text>
<text x="380.00" y="246.00" font-size="10.9" text-anchor="end" style="fill:#1a1a1a;stroke:#1a1a1a;stroke-width:0.2px">10</text>
<text x="380.60" y="240.80" font-size="8.5" style="fill:#1a1a1a;stroke:#1a1a1a;stroke-width:0.2px">7</text>
<text x="380.00" y="187.55" font-size="10.9" text-anchor="end" style="fill:#1a1a1a;stroke:#1a1a1a;stroke-width:0.2px">10</text>
<text x="380.60" y="182.35" font-size="8.5" style="fill:#1a1a1a;stroke:#1a1a1a;stroke-width:0.2px">8</text>
<text x="380.00" y="129.50" font-size="10.9" text-anchor="end" style="fill:#1a1a1a;stroke:#1a1a1a;stroke-width:0.2px">10</text>
<text x="380.60" y="124.30" font-size="8.5" style="fill:#1a1a1a;stroke:#1a1a1a;stroke-width:0.2px">9</text>
<text x="376.10" y="71.45" font-size="10.9" text-anchor="end" style="fill:#1a1a1a;stroke:#1a1a1a;stroke-width:0.2px">10</text>
<text x="376.70" y="66.25" font-size="8.5" style="fill:#1a1a1a;stroke:#1a1a1a;stroke-width:0.2px">10</text>
<text x="376.10" y="13.40" font-size="10.9" text-anchor="end" style="fill:#1a1a1a;stroke:#1a1a1a;stroke-width:0.2px">10</text>
<text x="376.70" y="8.20" font-size="8.5" style="fill:#1a1a1a;stroke:#1a1a1a;stroke-width:0.2px">11</text>
<text class="s" x="488" y="270.5" font-size="13.6" textLength="80.2" lengthAdjust="spacingAndGlyphs" style="stroke:#111;stroke-width:0.35px">Belief threshold</text>
<text class="s" x="572.4" y="270.5" font-size="13.6" font-style="italic" textLength="5.6" lengthAdjust="spacingAndGlyphs" style="stroke:#111;stroke-width:0.3px">ϵ</text>
<text class="s" transform="translate(361.1,150.7) rotate(-90)" font-size="13.6" textLength="54.6" lengthAdjust="spacingAndGlyphs" style="stroke:#111;stroke-width:0.35px">Cost in nJ</text>
</g>
</g></svg></body></html>
